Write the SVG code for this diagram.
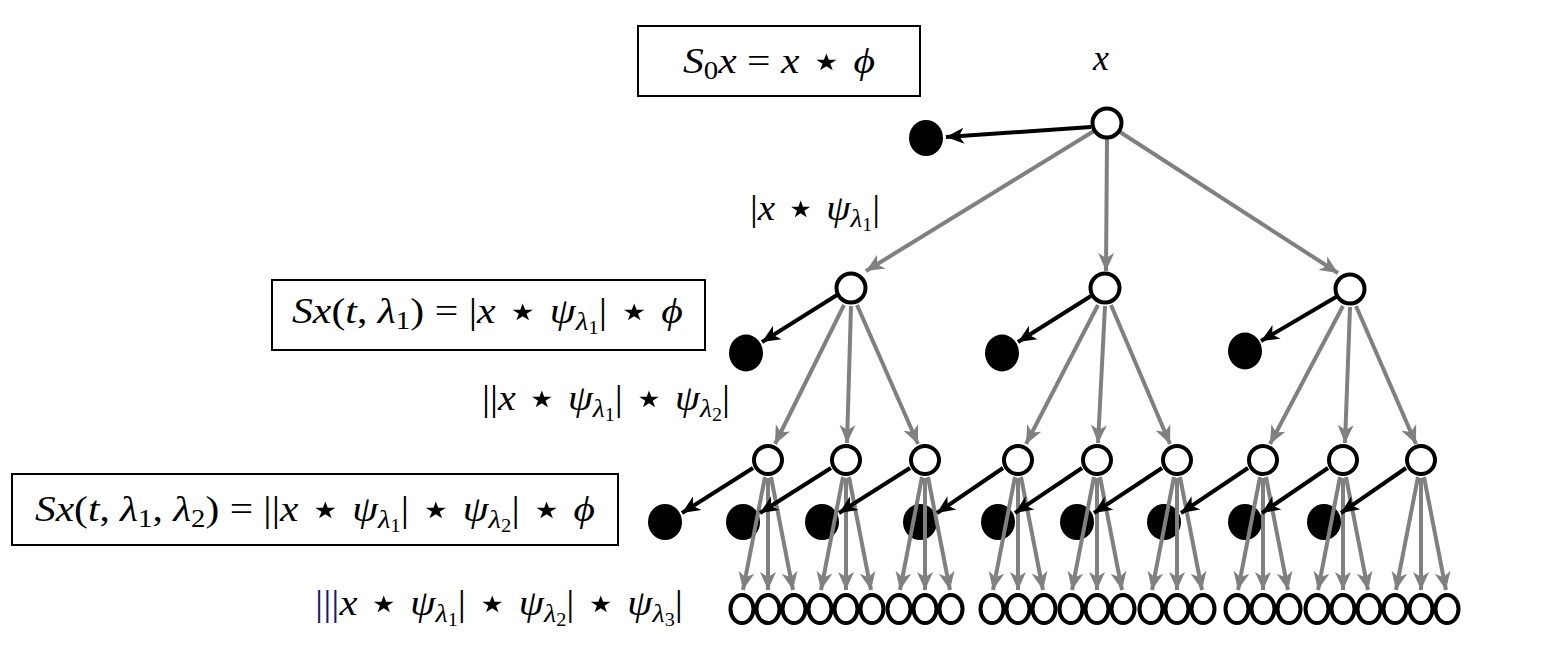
<svg xmlns="http://www.w3.org/2000/svg" width="1541" height="647" viewBox="0 0 1541 647">
<style>
.m{font-family:"Liberation Serif","DejaVu Serif",serif;font-size:36px;fill:#000}
.i{font-style:italic}
.st{font-family:"DejaVu Sans",sans-serif;font-size:46px;baseline-shift:-4px}
.box{fill:none;stroke:#000;stroke-width:2}
.open{fill:#fff;stroke:#000;stroke-width:4}
.dot{fill:#000}
.g{fill:none;stroke:#808080;stroke-width:4;marker-end:url(#ag)}
.b{fill:none;stroke:#000;stroke-width:4;marker-end:url(#ab)}
</style>
<defs>
<marker id="ag" viewBox="-19 -9 20 18" refX="0" refY="0" markerWidth="20" markerHeight="18" markerUnits="userSpaceOnUse" orient="auto"><path d="M0,0 L-18,-8 L-13,0 L-18,8 Z" fill="#808080"/></marker>
<marker id="ab" viewBox="-19 -9 20 18" refX="0" refY="0" markerWidth="20" markerHeight="18" markerUnits="userSpaceOnUse" orient="auto"><path d="M0,0 L-18,-8 L-13,0 L-18,8 Z" fill="#000"/></marker>
</defs>
<rect width="1541" height="647" fill="#fff"/>

<g id="labels">
<g id="box1"><rect class="box" x="638" y="26" width="282" height="70"/>
<text class="m" x="683" y="73" textLength="192" lengthAdjust="spacingAndGlyphs"><tspan class="i">S</tspan><tspan font-size="25" dy="6">0</tspan><tspan class="i" dy="-6">x</tspan> = <tspan class="i">x</tspan> <tspan class="st">⋆</tspan> <tspan class="i">ϕ</tspan></text></g>
<text id="lbl-x" class="m i" x="1093" y="70">x</text>
<text id="lbl1" class="m" x="750" y="220" textLength="130" lengthAdjust="spacingAndGlyphs">|<tspan class="i">x</tspan> <tspan class="st">⋆</tspan> <tspan class="i">ψ</tspan><tspan class="i" font-size="25" dy="7">λ</tspan><tspan font-size="18" dy="4">1</tspan><tspan dy="-11">|</tspan></text>
<g id="box2"><rect class="box" x="272" y="280" width="433" height="70"/>
<text class="m" x="292" y="323" textLength="391" lengthAdjust="spacingAndGlyphs"><tspan class="i">Sx</tspan>(<tspan class="i">t</tspan>, <tspan class="i">λ</tspan><tspan font-size="25" dy="6">1</tspan><tspan dy="-6">) = |</tspan><tspan class="i">x</tspan> <tspan class="st">⋆</tspan> <tspan class="i">ψ</tspan><tspan class="i" font-size="25" dy="7">λ</tspan><tspan font-size="18" dy="4">1</tspan><tspan dy="-11">| </tspan><tspan class="st">⋆</tspan> <tspan class="i">ϕ</tspan></text></g>
<text id="lbl2" class="m" x="482" y="410" textLength="248" lengthAdjust="spacingAndGlyphs">||<tspan class="i">x</tspan> <tspan class="st">⋆</tspan> <tspan class="i">ψ</tspan><tspan class="i" font-size="25" dy="7">λ</tspan><tspan font-size="18" dy="4">1</tspan><tspan dy="-11">| </tspan><tspan class="st">⋆</tspan> <tspan class="i">ψ</tspan><tspan class="i" font-size="25" dy="7">λ</tspan><tspan font-size="18" dy="4">2</tspan><tspan dy="-11">|</tspan></text>
<g id="box3"><rect class="box" x="12" y="474" width="606" height="71"/>
<text class="m" x="35" y="521" textLength="560" lengthAdjust="spacingAndGlyphs"><tspan class="i">Sx</tspan>(<tspan class="i">t</tspan>, <tspan class="i">λ</tspan><tspan font-size="25" dy="6">1</tspan><tspan dy="-6">, </tspan><tspan class="i">λ</tspan><tspan font-size="25" dy="6">2</tspan><tspan dy="-6">) = ||</tspan><tspan class="i">x</tspan> <tspan class="st">⋆</tspan> <tspan class="i">ψ</tspan><tspan class="i" font-size="25" dy="7">λ</tspan><tspan font-size="18" dy="4">1</tspan><tspan dy="-11">| </tspan><tspan class="st">⋆</tspan> <tspan class="i">ψ</tspan><tspan class="i" font-size="25" dy="7">λ</tspan><tspan font-size="18" dy="4">2</tspan><tspan dy="-11">| </tspan><tspan class="st">⋆</tspan> <tspan class="i">ϕ</tspan></text></g>
<text id="lbl3" class="m" x="315" y="615" textLength="368" lengthAdjust="spacingAndGlyphs"><tspan fill="#1a1a70">|||</tspan><tspan class="i">x</tspan> <tspan class="st">⋆</tspan> <tspan class="i">ψ</tspan><tspan class="i" font-size="25" dy="7">λ</tspan><tspan font-size="18" dy="4">1</tspan><tspan dy="-11">| </tspan><tspan class="st">⋆</tspan> <tspan class="i">ψ</tspan><tspan class="i" font-size="25" dy="7">λ</tspan><tspan font-size="18" dy="4">2</tspan><tspan dy="-11">| </tspan><tspan class="st">⋆</tspan> <tspan class="i">ψ</tspan><tspan class="i" font-size="25" dy="7">λ</tspan><tspan font-size="18" dy="4">3</tspan><tspan dy="-11">|</tspan></text>
</g>

<g id="d0"><ellipse class="dot" cx="926" cy="138" rx="17" ry="18"/></g>
<g id="d1"><ellipse class="dot" cx="746" cy="353" rx="17" ry="18.5"/></g>
<g id="d2"><ellipse class="dot" cx="1002" cy="353" rx="17" ry="18.5"/></g>
<g id="d3"><ellipse class="dot" cx="1245" cy="351" rx="17" ry="18.5"/></g>
<g id="d11"><ellipse class="dot" cx="665" cy="522" rx="17" ry="18"/></g>
<g id="d12"><ellipse class="dot" cx="743" cy="522" rx="17" ry="18"/></g>
<g id="d13"><ellipse class="dot" cx="822" cy="522" rx="17" ry="18"/></g>
<g id="d21"><ellipse class="dot" cx="920" cy="522" rx="17" ry="18"/></g>
<g id="d22"><ellipse class="dot" cx="998" cy="522" rx="17" ry="18"/></g>
<g id="d23"><ellipse class="dot" cx="1077" cy="522" rx="17" ry="18"/></g>
<g id="d31"><ellipse class="dot" cx="1164" cy="522" rx="17" ry="18"/></g>
<g id="d32"><ellipse class="dot" cx="1245" cy="522" rx="17" ry="18"/></g>
<g id="d33"><ellipse class="dot" cx="1324" cy="522" rx="17" ry="18"/></g>

<g id="connectors">
<path class="g" d="M1094,131 L866,271"/>
<path class="g" d="M1107,139 L1106,271"/>
<path class="g" d="M1120,132 L1338,273"/>
<path class="g" d="M844,305 L775,444"/>
<path class="g" d="M851,306 L847,443"/>
<path class="g" d="M857,305 L918,444"/>
<path class="g" d="M1098,305 L1026,444"/>
<path class="g" d="M1105,306 L1098,443"/>
<path class="g" d="M1111,305 L1170,444"/>
<path class="g" d="M1343,306 L1270,444"/>
<path class="g" d="M1350,307 L1345,443"/>
<path class="g" d="M1356,306 L1416,444"/>
<path class="g" d="M765,477 L743,590"/><path class="g" d="M768,478 L768,590"/><path class="g" d="M771,477 L793,590"/>
<path class="g" d="M843,477 L821,590"/><path class="g" d="M846,478 L846,590"/><path class="g" d="M849,477 L871,590"/>
<path class="g" d="M922,477 L900,590"/><path class="g" d="M925,478 L925,590"/><path class="g" d="M928,477 L950,590"/>
<path class="g" d="M1015,477 L993,590"/><path class="g" d="M1018,478 L1018,590"/><path class="g" d="M1021,477 L1043,590"/>
<path class="g" d="M1094,477 L1072,590"/><path class="g" d="M1097,478 L1097,590"/><path class="g" d="M1100,477 L1122,590"/>
<path class="g" d="M1174,477 L1152,590"/><path class="g" d="M1177,478 L1177,590"/><path class="g" d="M1180,477 L1202,590"/>
<path class="g" d="M1260,477 L1238,590"/><path class="g" d="M1263,478 L1263,590"/><path class="g" d="M1266,477 L1288,590"/>
<path class="g" d="M1340,477 L1318,590"/><path class="g" d="M1343,478 L1343,590"/><path class="g" d="M1346,477 L1368,590"/>
<path class="g" d="M1418,477 L1396,590"/><path class="g" d="M1421,478 L1421,590"/><path class="g" d="M1424,477 L1446,590"/>
<path class="b" d="M1091,127 L946,137"/>
<path class="b" d="M837,295 L762,342"/>
<path class="b" d="M1091,296 L1018,342"/>
<path class="b" d="M1336,297 L1261,341"/>
<path class="b" d="M753,468 L682,513"/>
<path class="b" d="M831,468 L760,513"/>
<path class="b" d="M910,468 L839,513"/>
<path class="b" d="M1003,468 L937,513"/>
<path class="b" d="M1082,468 L1015,513"/>
<path class="b" d="M1162,468 L1094,513"/>
<path class="b" d="M1248,468 L1181,513"/>
<path class="b" d="M1328,468 L1262,513"/>
<path class="b" d="M1406,468 L1341,513"/>
</g>

<g id="n0"><circle class="open" cx="1107" cy="123" r="14.5"/></g>
<g id="n1"><circle class="open" cx="851" cy="288" r="14.5"/></g>
<g id="n2"><circle class="open" cx="1105" cy="288" r="14.5"/></g>
<g id="n3"><circle class="open" cx="1350" cy="289" r="14.5"/></g>
<g id="n11"><circle class="open" cx="768" cy="460" r="14"/></g>
<g id="n12"><circle class="open" cx="846" cy="460" r="14"/></g>
<g id="n13"><circle class="open" cx="925" cy="460" r="14"/></g>
<g id="n21"><circle class="open" cx="1018" cy="460" r="14"/></g>
<g id="n22"><circle class="open" cx="1097" cy="460" r="14"/></g>
<g id="n23"><circle class="open" cx="1177" cy="460" r="14"/></g>
<g id="n31"><circle class="open" cx="1263" cy="460" r="14"/></g>
<g id="n32"><circle class="open" cx="1343" cy="460" r="14"/></g>
<g id="n33"><circle class="open" cx="1421" cy="460" r="14"/></g>
<g id="leaves11"><ellipse class="open" cx="742" cy="609" rx="11.5" ry="14"/><ellipse class="open" cx="768" cy="609" rx="11.5" ry="14"/><ellipse class="open" cx="794" cy="609" rx="11.5" ry="14"/></g>
<g id="leaves12"><ellipse class="open" cx="820" cy="609" rx="11.5" ry="14"/><ellipse class="open" cx="846" cy="609" rx="11.5" ry="14"/><ellipse class="open" cx="872" cy="609" rx="11.5" ry="14"/></g>
<g id="leaves13"><ellipse class="open" cx="899" cy="609" rx="11.5" ry="14"/><ellipse class="open" cx="925" cy="609" rx="11.5" ry="14"/><ellipse class="open" cx="951" cy="609" rx="11.5" ry="14"/></g>
<g id="leaves21"><ellipse class="open" cx="992" cy="609" rx="11.5" ry="14"/><ellipse class="open" cx="1018" cy="609" rx="11.5" ry="14"/><ellipse class="open" cx="1044" cy="609" rx="11.5" ry="14"/></g>
<g id="leaves22"><ellipse class="open" cx="1071" cy="609" rx="11.5" ry="14"/><ellipse class="open" cx="1097" cy="609" rx="11.5" ry="14"/><ellipse class="open" cx="1123" cy="609" rx="11.5" ry="14"/></g>
<g id="leaves23"><ellipse class="open" cx="1151" cy="609" rx="11.5" ry="14"/><ellipse class="open" cx="1177" cy="609" rx="11.5" ry="14"/><ellipse class="open" cx="1203" cy="609" rx="11.5" ry="14"/></g>
<g id="leaves31"><ellipse class="open" cx="1237" cy="609" rx="11.5" ry="14"/><ellipse class="open" cx="1263" cy="609" rx="11.5" ry="14"/><ellipse class="open" cx="1289" cy="609" rx="11.5" ry="14"/></g>
<g id="leaves32"><ellipse class="open" cx="1317" cy="609" rx="11.5" ry="14"/><ellipse class="open" cx="1343" cy="609" rx="11.5" ry="14"/><ellipse class="open" cx="1369" cy="609" rx="11.5" ry="14"/></g>
<g id="leaves33"><ellipse class="open" cx="1395" cy="609" rx="11.5" ry="14"/><ellipse class="open" cx="1421" cy="609" rx="11.5" ry="14"/><ellipse class="open" cx="1447" cy="609" rx="11.5" ry="14"/></g>
</svg>
